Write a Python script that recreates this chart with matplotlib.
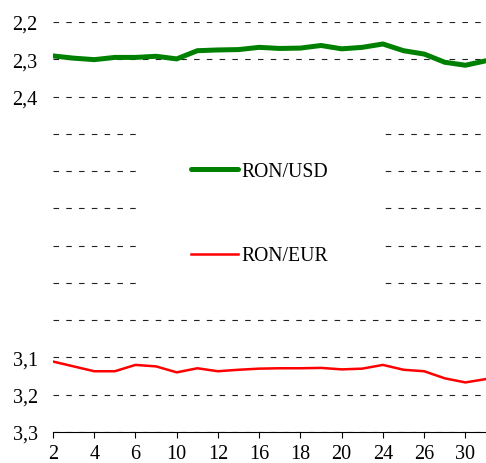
"""
RON exchange rate chart (inverted axis, Excel-style)
"""

import numpy as np
import matplotlib.pyplot as plt
from matplotlib.patches import Rectangle

"""Data"""
days = [2, 3, 4, 5, 6, 9, 10, 11, 12, 13, 16, 17, 18, 19, 20, 23, 24, 25, 26, 27, 30, 31]
ron_usd = [2.291, 2.297, 2.301, 2.295, 2.295, 2.292, 2.299, 2.277, 2.275, 2.274, 2.268,
           2.271, 2.270, 2.263, 2.272, 2.268, 2.259, 2.277, 2.286, 2.308, 2.316, 2.304]
ron_eur = [3.111, 3.124, 3.137, 3.137, 3.120, 3.124, 3.140, 3.129, 3.137, 3.133, 3.130,
           3.129, 3.129, 3.128, 3.132, 3.130, 3.120, 3.133, 3.137, 3.156, 3.167, 3.158]
y_ticks = [2.2, 2.3, 2.4, 2.5, 2.6, 2.7, 2.8, 2.9, 3.0, 3.1, 3.2, 3.3]
y_shown = [2.2, 2.3, 2.4, 3.1, 3.2, 3.3]

plt.rcParams['font.family'] = ['Liberation Serif', 'DejaVu Serif']
plt.rcParams['font.size'] = 14.5

fig = plt.figure(figsize=(4.86, 4.64), dpi=100)
ax = fig.add_axes([53/486, 31/464, 433/486, 410/464])

x = np.arange(len(days))
ax.plot(x, ron_usd, color='#008000', lw=3.6, solid_capstyle='round',
        solid_joinstyle='round', label='RON/USD', zorder=3)
ax.plot(x, ron_eur, color='#ff0000', lw=1.8, solid_joinstyle='round',
        label='RON/EUR', zorder=3)

ax.set_xlim(0, len(days) - 1)
ax.set_ylim(3.3, 2.2)

ax.set_xticks(x[::2])
ax.set_xticklabels([str(d) for d in days[::2]])
ax.set_yticks(y_ticks)
ax.set_yticklabels([("%.1f" % v).replace('.', ',') if v in y_shown else ''
                    for v in y_ticks])

ax.tick_params(axis='x', direction='out', length=4, width=0.8, pad=5, color='black')
ax.tick_params(axis='y', length=0, pad=11)

for s in ['left', 'right', 'top']:
    ax.spines[s].set_visible(False)
ax.spines['bottom'].set_linewidth(0.8)
ax.spines['bottom'].set_color('black')

ax.set_axisbelow(True)
ax.yaxis.grid(True, color='#222222', lw=0.8, dashes=(5, 6.5))

"""White box behind the legend"""
ax.add_patch(Rectangle((0.194, 0.31), 0.561, 0.47, transform=ax.transAxes,
                       facecolor='white', edgecolor='none', zorder=1.5))

leg = ax.legend(loc='center', bbox_to_anchor=(0.476, 0.532), frameon=False,
                handlelength=2.4, handletextpad=0.15, labelspacing=3.3,
                fontsize=14.2)

plt.savefig("out.png", dpi=100)
